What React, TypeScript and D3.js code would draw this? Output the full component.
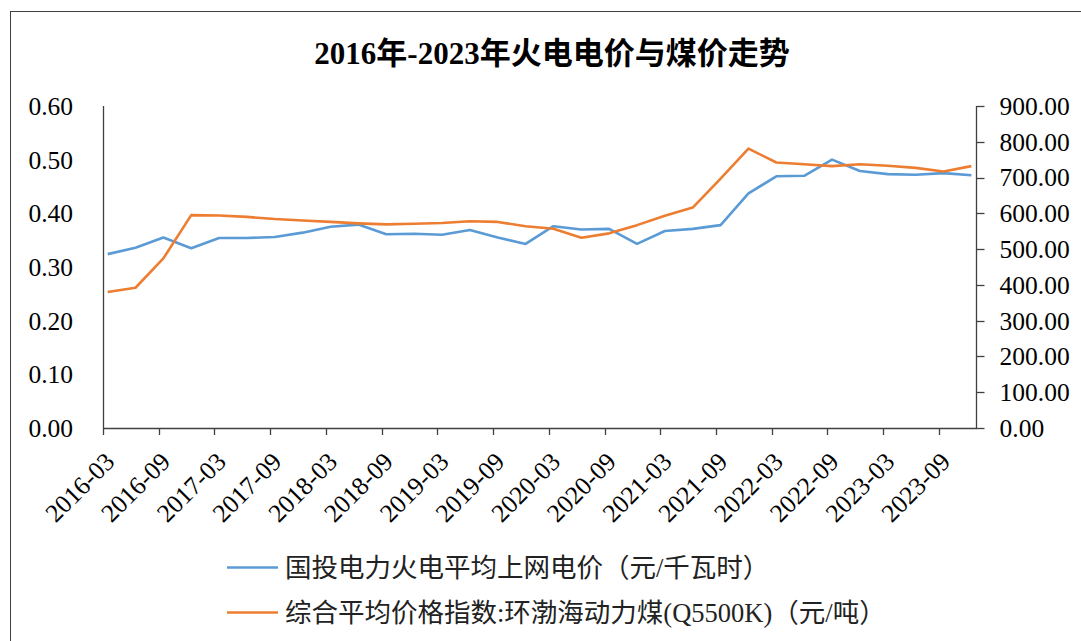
import * as d3 from 'd3';
import React, { useEffect, useRef } from 'react';

// quarterly observations
const quarters = [
  '2016-03', '2016-06', '2016-09', '2016-12',
  '2017-03', '2017-06', '2017-09', '2017-12',
  '2018-03', '2018-06', '2018-09', '2018-12',
  '2019-03', '2019-06', '2019-09', '2019-12',
  '2020-03', '2020-06', '2020-09', '2020-12',
  '2021-03', '2021-06', '2021-09', '2021-12',
  '2022-03', '2022-06', '2022-09', '2022-12',
  '2023-03', '2023-06', '2023-09', '2023-12',
];

// 国投电力火电平均上网电价 (元/千瓦时)
const powerPrice = [
  0.324, 0.336, 0.355, 0.335, 0.354, 0.354, 0.356, 0.364,
  0.375, 0.379, 0.361, 0.362, 0.360, 0.369, 0.355, 0.343,
  0.376, 0.370, 0.371, 0.343, 0.367, 0.371, 0.378, 0.437,
  0.469, 0.470, 0.500, 0.479, 0.473, 0.472, 0.475, 0.471,
];

// 环渤海动力煤 Q5500K (元/吨)
const coalPrice = [
  380, 392, 474, 595, 594, 590, 584, 580,
  576, 572, 569, 571, 573, 578, 576, 564,
  557, 532, 544, 567, 593, 616, 697, 781,
  742, 737, 732, 737, 733, 727, 717, 732,
];

const xTickLabels = [
  '2016-03', '2016-09', '2017-03', '2017-09', '2018-03', '2018-09',
  '2019-03', '2019-09', '2020-03', '2020-09', '2021-03', '2021-09',
  '2022-03', '2022-09', '2023-03', '2023-09',
];

const leftTicks = [0, 0.1, 0.2, 0.3, 0.4, 0.5, 0.6];
const rightTicks = [0, 100, 200, 300, 400, 500, 600, 700, 800, 900];

const seriesNames = [
  '国投电力火电平均上网电价（元/千瓦时）',
  '综合平均价格指数:环渤海动力煤(Q5500K)（元/吨）',
];
const colors = ['#5B9BD5', '#ED7D31'];

const FONT = '"Liberation Serif", "Noto Sans CJK SC", serif';

// months since 2016-03
const monthIndex = (s: string) => {
  const [y, m] = s.split('-').map(Number);
  return (y - 2016) * 12 + (m - 3);
};

const App = () => {
  const svgRef = useRef<SVGSVGElement>(null);

  useEffect(() => {
    const width = 1081;
    const height = 641;
    const margin = { top: 106, right: 105, bottom: 213, left: 103 };
    const axisColor = '#404040';

    const svg = d3.select(svgRef.current);
    svg.selectAll('*').remove();
    svg.attr('width', width).attr('height', height);

    svg.append('rect')
      .attr('width', width).attr('height', height).attr('fill', '#fff');

    // outer frame
    svg.append('rect')
      .attr('x', 10.5).attr('y', 11.5)
      .attr('width', 1200).attr('height', 800)
      .attr('fill', 'none').attr('stroke', axisColor).attr('stroke-width', 1);

    const x = d3.scaleLinear()
      .domain([0, 94])
      .range([margin.left, width - margin.right]);

    const yLeft = d3.scaleLinear()
      .domain([0, 0.6])
      .range([height - margin.bottom, margin.top]);

    const yRight = d3.scaleLinear()
      .domain([0, 900])
      .range([height - margin.bottom, margin.top]);

    const x0 = x(0);
    const x1 = x(94);
    const yBase = yLeft(0);

    // title
    svg.append('text')
      .attr('x', 552).attr('y', 64)
      .attr('text-anchor', 'middle')
      .style('font-family', FONT)
      .style('font-size', '31px')
      .style('font-weight', 'bold')
      .text('2016年-2023年火电电价与煤价走势');

    // left axis: line only
    svg.append('line')
      .attr('x1', x0 + 0.5).attr('x2', x0 + 0.5)
      .attr('y1', yLeft(0.6)).attr('y2', yBase)
      .attr('stroke', axisColor).attr('stroke-width', 1.3);

    svg.append('g')
      .selectAll('text')
      .data(leftTicks)
      .enter()
      .append('text')
      .attr('x', 73)
      .attr('y', d => yLeft(d))
      .attr('dy', '0.35em')
      .attr('text-anchor', 'end')
      .style('font-family', FONT)
      .style('font-size', '25.5px')
      .text(d => d.toFixed(2));

    // right axis with outward ticks
    const gRight = svg.append('g').attr('transform', `translate(${x1 + 0.5},0)`);
    gRight.append('line')
      .attr('y1', yRight(900)).attr('y2', yBase)
      .attr('stroke', axisColor).attr('stroke-width', 1.3);
    gRight.selectAll('line.tick')
      .data(rightTicks)
      .enter()
      .append('line')
      .attr('class', 'tick')
      .attr('x1', 0).attr('x2', 8)
      .attr('y1', d => Math.round(yRight(d)) + 0.5)
      .attr('y2', d => Math.round(yRight(d)) + 0.5)
      .attr('stroke', axisColor).attr('stroke-width', 1.3);
    gRight.selectAll('text')
      .data(rightTicks)
      .enter()
      .append('text')
      .attr('x', 23)
      .attr('y', d => yRight(d))
      .attr('dy', '0.35em')
      .style('font-family', FONT)
      .style('font-size', '25.5px')
      .text(d => d.toFixed(2));

    // bottom axis
    svg.append('line')
      .attr('x1', x0).attr('x2', x1 + 1)
      .attr('y1', yBase + 0.5).attr('y2', yBase + 0.5)
      .attr('stroke', axisColor).attr('stroke-width', 1.3);

    svg.append('g')
      .selectAll('line')
      .data(xTickLabels)
      .enter()
      .append('line')
      .attr('x1', d => Math.round(x(monthIndex(d))) + 0.5)
      .attr('x2', d => Math.round(x(monthIndex(d))) + 0.5)
      .attr('y1', yBase).attr('y2', yBase + 7)
      .attr('stroke', axisColor).attr('stroke-width', 1.3);

    svg.append('g')
      .selectAll('text')
      .data(xTickLabels)
      .enter()
      .append('text')
      .attr('transform', d => `translate(${x(monthIndex(d) + 0.5) + 2},${yBase + 29}) rotate(-45)`)
      .attr('dy', '0.35em')
      .attr('text-anchor', 'end')
      .style('font-family', FONT)
      .style('font-size', '25.5px')
      .text(d => d);

    // lines
    const lineLeft = d3.line<number>()
      .x((_, i) => x(monthIndex(quarters[i]) + 0.5))
      .y(d => yLeft(d));
    const lineRight = d3.line<number>()
      .x((_, i) => x(monthIndex(quarters[i]) + 0.5))
      .y(d => yRight(d));

    svg.append('path')
      .datum(powerPrice)
      .attr('fill', 'none')
      .attr('stroke', colors[0])
      .attr('stroke-width', 2.6)
      .attr('stroke-linejoin', 'round')
      .attr('d', lineLeft);

    svg.append('path')
      .datum(coalPrice)
      .attr('fill', 'none')
      .attr('stroke', colors[1])
      .attr('stroke-width', 2.6)
      .attr('stroke-linejoin', 'round')
      .attr('d', lineRight);

    // legend
    const legend = svg.append('g');
    seriesNames.forEach((name, i) => {
      const ly = 567.5 + i * 45;
      legend.append('line')
        .attr('x1', 227).attr('x2', 278)
        .attr('y1', ly).attr('y2', ly)
        .attr('stroke', colors[i]).attr('stroke-width', 2.6);
      legend.append('text')
        .attr('x', 285).attr('y', ly)
        .attr('dy', '0.35em')
        .style('font-family', FONT)
        .style('font-size', '26.5px')
        .attr('fill', '#222')
        .text(name);
    });
  }, []);

  return (
    <svg
      ref={svgRef}
      style={{ position: 'absolute', left: 0, top: 0, display: 'block' }}
    ></svg>
  );
};

export default App;
